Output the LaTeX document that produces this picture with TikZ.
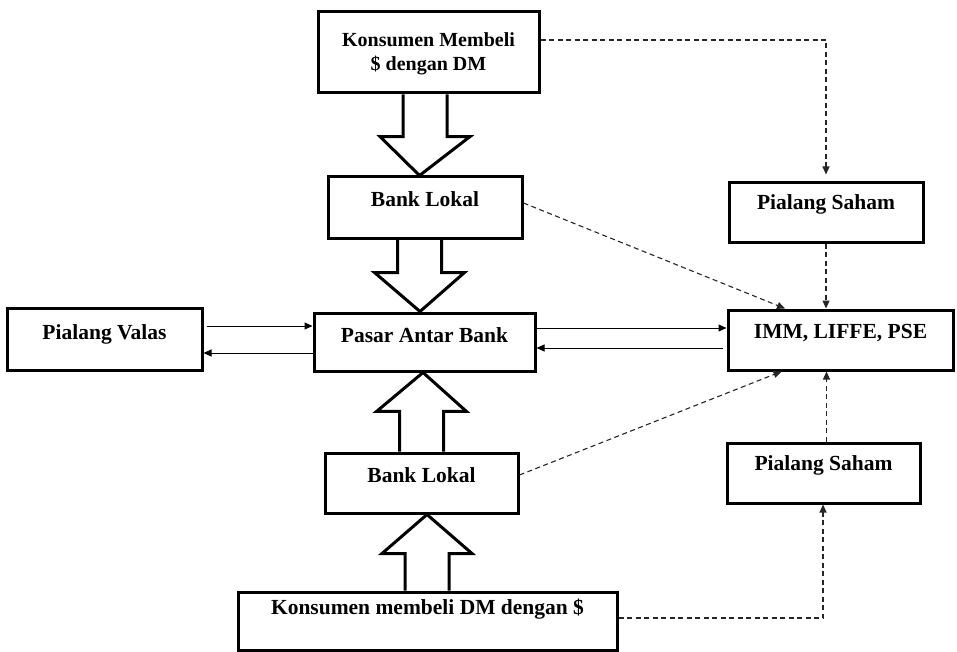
\documentclass[tikz,border=0pt]{standalone}
\usepackage{fontspec}
\setmainfont{Liberation Serif}
\usetikzlibrary{arrows.meta,calc,backgrounds}

% hollow block arrow from the point #1 (shaft foot) to the point #2 (tip)
\newcommand\blockarrow[2]{%
  \draw[blk] let \p1=(#1), \p2=(#2), \p3=($(#2)!39pt!(#1)$) in
    (\x1-22pt,\y1) -- (\x1-22pt,\y3) -- (\x1-45pt,\y3) -- (\x2,\y2)
    -- (\x1+45pt,\y3) -- (\x1+22pt,\y3) -- (\x1+22pt,\y1);}

\begin{document}
\begin{tikzpicture}[x=1pt,y=-1pt,
  box/.style={draw, line width=3pt, inner sep=0pt},
  lbl/.style={font=\fontsize{21.5}{24}\selectfont\bfseries, inner sep=0pt,
              text height=15pt, text depth=4pt},
  lbl2/.style={font=\fontsize{20}{24}\selectfont\bfseries, inner sep=0pt,
               align=center},
  blk/.style={draw, line width=3pt, fill=white, line join=miter},
  tip/.style={-{Triangle[length=8pt,width=7pt]}},
  thin/.style={tip, line width=1pt},
  dsh/.style={tip, draw=black!85, line width=1.1pt, dash pattern=on 5pt off 3.5pt}]
\useasboundingbox (0,0) rectangle (957,652);

% boxes
\node[box, minimum width=221, minimum height=81] (top) at (428.5,52.5) {};
\node[box, minimum width=194, minimum height=61] (bl1) at (425,207.5) {};
\node[box, minimum width=221, minimum height=58] (pab) at (424.5,342) {};
\node[box, minimum width=195, minimum height=62] (pv)  at (104.5,339) {};
\node[box, minimum width=225, minimum height=60] (imm) at (840.5,340) {};
\node[box, minimum width=194, minimum height=59] (ps1) at (826,212.5) {};
\node[box, minimum width=193, minimum height=60] (ps2) at (823.5,473) {};
\node[box, minimum width=193, minimum height=60] (bl2) at (421.5,483) {};
\node[box, minimum width=379, minimum height=58] (bot) at (427.5,621) {};

% labels
\node[lbl2] (topt) at ([yshift=-1]top.center) {Konsumen Membeli\\\$ dengan DM};
\node[lbl] (bl1t) at ([yshift=6]bl1.center) {Bank Lokal};
\node[lbl] (pabt) at ([yshift=5.5]pab.center) {Pasar Antar Bank};
\node[lbl] (pvt)  at ([yshift=5.5]pv.center) {Pialang Valas};
\node[lbl] (immt) at ([yshift=7.5]imm.center) {IMM, LIFFE, PSE};
\node[lbl] (ps1t) at ([yshift=8]ps1.center) {Pialang Saham};
\node[lbl] (ps2t) at ([yshift=8.5]ps2.center) {Pialang Saham};
\node[lbl] (bl2t) at ([yshift=6.5]bl2.center) {Bank Lokal};
\node[lbl] (bott) at ([yshift=12.5]bot.center) {Konsumen membeli DM dengan \$};

% hollow block arrows, kept behind the box borders
\begin{pgfonlayer}{background}
  \blockarrow{[xshift=-3.5]top.south}{[xshift=-5.5]bl1.north}
  \blockarrow{[xshift=-5.5]bl1.south}{[xshift=-4.5]pab.north}
  \blockarrow{bl2.north}{[xshift=-1.5]pab.south}
  \blockarrow{[xshift=-0.5]bot.north}{[xshift=5.5]bl2.south}
\end{pgfonlayer}

% thin two-way links
\draw[thin, shorten <=3pt] ([yshift=13]pv.east) -- ([yshift=13]pv.east -| pab.west);
\draw[thin] ([yshift=-11]pab.west) -- ([yshift=-11]pab.west -| pv.east);
\draw[thin] ([yshift=14]pab.east) -- ([yshift=14]pab.east -| imm.west);
\draw[thin, shorten <=4pt] ([yshift=-8]imm.west) -- ([yshift=-8]imm.west -| pab.east);

% dashed links
\draw[dsh, shorten >=7pt] ([yshift=12.5]top.east) -| (ps1.north);
\draw[dsh] ([yshift=4.5]bl1.east) -- ([xshift=-55.5]imm.north);
\draw[dsh] (ps1.south) -- (ps1.south |- imm.north);
\draw[dsh] ([yshift=8]bl2.east) -- ([xshift=-59]imm.south);
\draw[dsh] ([xshift=3]ps2.north) -- ([xshift=3]ps2.north |- imm.south);
\draw[dsh] ([yshift=3]bot.east) -| ([xshift=-0.5]ps2.south);
\end{tikzpicture}
\end{document}
